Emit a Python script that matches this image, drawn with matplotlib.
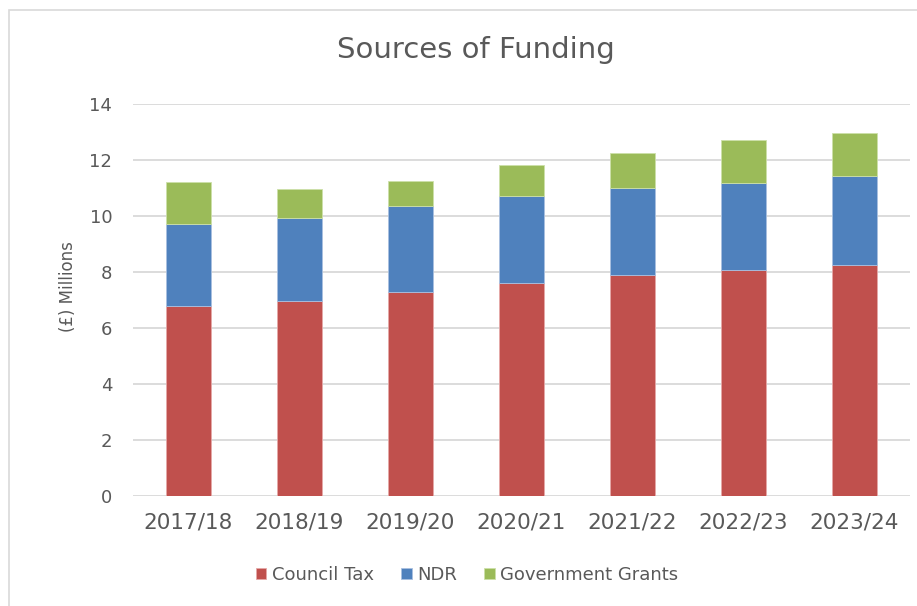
import matplotlib.pyplot as plt
from matplotlib.patches import Rectangle
import numpy as np

years = ['2017/18', '2018/19', '2019/20', '2020/21', '2021/22', '2022/23', '2023/24']
council_tax = [6.80, 6.95, 7.29, 7.62, 7.90, 8.06, 8.24]
ndr = [2.91, 2.99, 3.07, 3.11, 3.11, 3.12, 3.20]
grants = [1.49, 1.02, 0.88, 1.08, 1.23, 1.52, 1.52]

plt.rcParams['font.family'] = ['DejaVu Sans']
text_col = '#595959'

fig = plt.figure(figsize=(9.17, 6.06), dpi=100)
ax = fig.add_axes([133 / 917, 1 - 496 / 606, 777 / 917, 392 / 606])

x = np.arange(len(years))
w = 0.4
ct = np.array(council_tax)
nd = np.array(ndr)
ax.bar(x, ct, w, color='#c0504d', edgecolor='#e6a9a8', linewidth=0.6, label='Council Tax', zorder=3)
ax.bar(x, nd, w, bottom=ct, color='#4f81bd', edgecolor='#a9c0e0', linewidth=0.6, label='NDR', zorder=3)
ax.bar(x, grants, w, bottom=ct + nd, color='#9bbb59', edgecolor='#cde0a9', linewidth=0.6,
       label='Government Grants', zorder=3)

ax.set_xlim(-0.5, len(years) - 0.5)
ax.set_ylim(0, 14)
ax.set_yticks(range(0, 15, 2))
ax.set_xticks(x)
ax.set_xticklabels(years)
ax.yaxis.grid(True, color='#d9d9d9', linewidth=1.3, zorder=0)
for s in ax.spines.values():
    s.set_visible(False)
ax.tick_params(length=0, colors=text_col)
ax.tick_params(axis='x', labelsize=15.5, pad=12)
ax.tick_params(axis='y', labelsize=13, pad=15)

fig.text(68 / 917, 1 - 287 / 606, '(£) Millions', rotation=90, ha='center', va='center',
         fontsize=12, color=text_col)

fig.text(476 / 917, 1 - 50 / 606, 'Sources of Funding', ha='center', va='center',
         fontsize=21, color=text_col)

fig.legend(loc='center', bbox_to_anchor=(467 / 917, 1 - 575 / 606), ncol=3, frameon=False,
           fontsize=13, labelcolor=text_col, handlelength=0.6, handleheight=0.6,
           handletextpad=0.3, columnspacing=1.5)

# chart frame
fig.patches.append(Rectangle((9 / 917, -0.1), 1.2, 1 - 10 / 606 + 0.1, transform=fig.transFigure,
                             fill=False, edgecolor='#d9d9d9', linewidth=1.2))

fig.savefig('out.png', dpi=100)
